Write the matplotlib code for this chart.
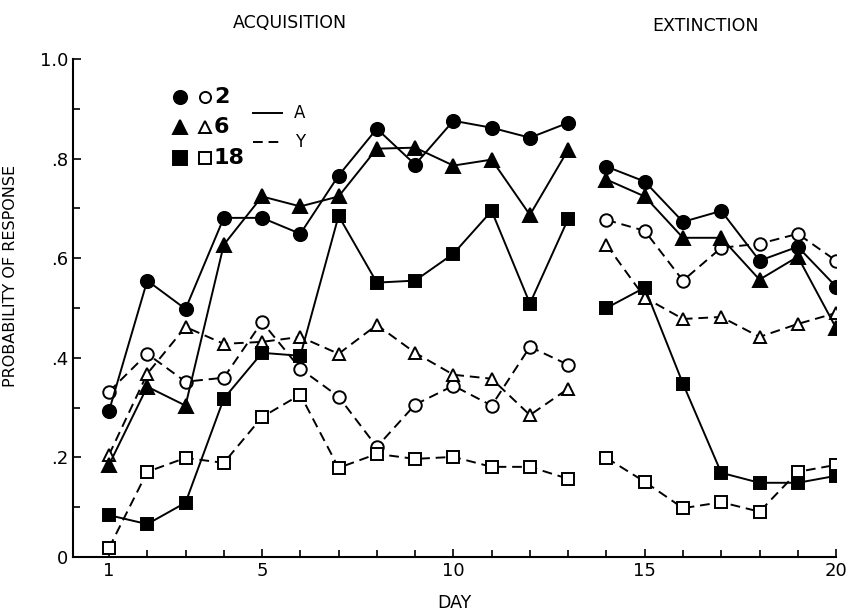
import matplotlib
matplotlib.use("Agg")
import matplotlib.pyplot as plt
from matplotlib.lines import Line2D
import numpy as np

plt.rcParams['font.family'] = ['DejaVu Sans']

days = list(range(1, 21))
n_acq = 13  # days 1-13 acquisition, 14-20 extinction

# probability of response per day
a2 = [0.293, 0.555, 0.498, 0.681, 0.681, 0.649, 0.766, 0.860, 0.788, 0.876, 0.862, 0.842, 0.872,
      0.784, 0.754, 0.673, 0.695, 0.595, 0.623, 0.543]
a6 = [0.185, 0.342, 0.304, 0.627, 0.724, 0.704, 0.724, 0.820, 0.822, 0.786, 0.798, 0.687, 0.818,
      0.758, 0.724, 0.641, 0.641, 0.557, 0.603, 0.460]
a18 = [0.084, 0.066, 0.109, 0.318, 0.410, 0.404, 0.685, 0.551, 0.555, 0.609, 0.695, 0.509, 0.679,
       0.500, 0.541, 0.348, 0.169, 0.149, 0.149, 0.163]
y2 = [0.332, 0.408, 0.352, 0.360, 0.472, 0.378, 0.322, 0.221, 0.306, 0.344, 0.304, 0.422, 0.386,
      0.677, 0.655, 0.555, 0.621, 0.629, 0.649, 0.595]
y6 = [0.205, 0.368, 0.462, 0.428, 0.432, 0.442, 0.408, 0.466, 0.410, 0.366, 0.358, 0.285, 0.338,
      0.627, 0.521, 0.478, 0.482, 0.442, 0.468, 0.490]
y18 = [0.018, 0.171, 0.199, 0.189, 0.281, 0.326, 0.179, 0.207, 0.197, 0.201, 0.181, 0.181, 0.157,
       0.199, 0.151, 0.098, 0.110, 0.091, 0.171, 0.185]

xticks = [1, 5, 10, 15, 20]
yticks = [0, 0.2, 0.4, 0.6, 0.8, 1.0]
ytick_labels = ['0', '.2', '.4', '.6', '.8', '1.0']

fig = plt.figure(figsize=(8.56, 6.11), dpi=100)
ax = fig.add_axes([0.0853, 0.0884, 0.8914, 0.815])

dash = (0, (5, 3))
series = [
    (a2, 'o', 'k', '-', 9.5),
    (a6, '^', 'k', '-', 9.5),
    (a18, 's', 'k', '-', 8.5),
    (y2, 'o', 'w', dash, 9.0),
    (y6, '^', 'w', dash, 9.0),
    (y18, 's', 'w', dash, 8.0),
]
for vals, mk, fc, ls, ms in series:
    for seg in (slice(0, n_acq), slice(n_acq, None)):
        ax.plot(days[seg], vals[seg], color='k', ls=ls, lw=1.4, marker=mk,
                mfc=fc, mec='k', mew=1.4, ms=ms, zorder=3 if fc == 'k' else 2)

ax.set_xlim(0.06, 20)
ax.set_ylim(0, 1.0)
ax.spines['top'].set_visible(False)
ax.spines['right'].set_visible(False)
ax.spines['left'].set_linewidth(1.5)
ax.spines['bottom'].set_linewidth(1.5)

ax.set_xticks(xticks)
ax.set_xticks(days, minor=True)
ax.set_yticks(yticks)
ax.set_yticklabels(ytick_labels)
ax.set_yticks(np.arange(0.1, 1.0, 0.2), minor=True)
ax.tick_params(which='both', direction='in', width=1.2, labelsize=13)
ax.tick_params(which='major', length=6)
ax.tick_params(which='minor', length=5)

ax.set_xlabel('DAY', fontsize=12.5, labelpad=10)
ax.set_ylabel('PROBABILITY OF RESPONSE', fontsize=11.5)
ax.yaxis.set_label_coords(-0.072, 0.564)

fig.text(0.339, 0.962, 'ACQUISITION', ha='center', va='center', fontsize=12.5)
fig.text(0.824, 0.957, 'EXTINCTION', ha='center', va='center', fontsize=12.5)

# legend drawn by hand like the original
leg_rows = [('o', '2', 0.841), ('^', '6', 0.792), ('s', '18', 0.741)]
for mk, lab, yy in leg_rows:
    fig.add_artist(Line2D([0.210], [yy], marker=mk, color='k', ms=9.5, mec='k', mew=1.4,
                          transform=fig.transFigure))
    fig.add_artist(Line2D([0.240], [yy], marker=mk, color='k', mfc='w', ms=8, mec='k',
                          mew=1.4, transform=fig.transFigure))
    fig.text(0.250, yy, lab, ha='left', va='center', fontsize=16, fontweight='bold')

fig.add_artist(Line2D([0.296, 0.330], [0.815, 0.815], color='k', lw=1.4,
                      transform=fig.transFigure))
fig.add_artist(Line2D([0.296, 0.330], [0.767, 0.767], color='k', lw=1.4, ls=dash,
                      transform=fig.transFigure))
fig.text(0.350, 0.815, 'A', ha='center', va='center', fontsize=12)
fig.text(0.350, 0.767, 'Y', ha='center', va='center', fontsize=12)

plt.savefig('out.png', dpi=100)
